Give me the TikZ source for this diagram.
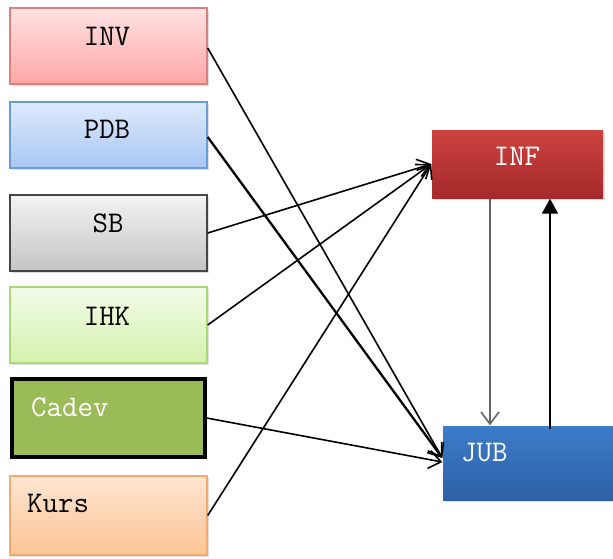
\documentclass[tikz,border=0pt]{standalone}
\usepackage{fontspec}
\usetikzlibrary{arrows.meta,shadows,calc}
\begin{document}
\begin{tikzpicture}[x=1pt,y=-1pt,
  box/.style={draw, line width=1.4pt, inner sep=0pt,
    drop shadow={shadow xshift=1.5pt, shadow yshift=-1.5pt, opacity=0.25}},
  leftbox/.style={box, minimum width=197pt, minimum height=76pt},
  lbl/.style={font=\ttfamily\fontsize{30}{32}\selectfont, inner sep=0pt, anchor=base},
  lblw/.style={lbl, anchor=base west},
  flow/.style={line width=1.6pt, -{Straight Barb[length=12pt,width=18pt,line width=1.6pt]}},
  upflow/.style={line width=1.8pt, -{Triangle[length=15pt,width=16pt]}}]
\useasboundingbox (0,0) rectangle (613,558);
\clip (0,0) rectangle (613,558);

% source boxes on the left
\node[leftbox, draw={rgb,255:red,217;green,128;blue,128},
  top color={rgb,255:red,255;green,226;blue,226}, bottom color={rgb,255:red,255;green,166;blue,166}]
  (inv) at (108.5,46) {};
\node[leftbox, minimum height=66pt, draw={rgb,255:red,107;green,155;blue,216},
  top color={rgb,255:red,222;green,234;blue,252}, bottom color={rgb,255:red,168;green,199;blue,244}]
  (pdb) at (108.5,135) {};
\node[leftbox, draw={rgb,255:red,70;green,70;blue,70},
  top color={rgb,255:red,243;green,243;blue,243}, bottom color={rgb,255:red,196;green,196;blue,196}]
  (sb) at (108.5,233) {};
\node[leftbox, draw={rgb,255:red,168;green,216;blue,122},
  top color={rgb,255:red,243;green,252;blue,233}, bottom color={rgb,255:red,212;green,241;blue,172}]
  (ihk) at (108.5,325) {};
\node[leftbox, line width=3.5pt, minimum width=193pt, minimum height=78pt, draw=black,
  fill={rgb,255:red,155;green,187;blue,89}]
  (cadev) at (108.5,418) {};
\node[leftbox, minimum height=79pt, draw={rgb,255:red,244;green,170;blue,110},
  top color={rgb,255:red,255;green,229;blue,210}, bottom color={rgb,255:red,252;green,196;blue,148}]
  (kurs) at (108.5,515.5) {};

% target boxes on the right
\node[box, draw=none, minimum width=171pt, minimum height=68pt,
  top color={rgb,255:red,204;green,66;blue,64}, bottom color={rgb,255:red,164;green,42;blue,42}]
  (inf) at (517.5,164) {};
\node[box, draw=none, minimum width=177pt, minimum height=74pt,
  top color={rgb,255:red,60;green,124;blue,202}, bottom color={rgb,255:red,46;green,96;blue,166}]
  (jub) at (531.5,463) {};

% labels
\node[lbl] (tinv) at (107,45) {INV};
\node[lbl] (tpdb) at (107,138) {PDB};
\node[lbl] (tsb) at (108,232) {SB};
\node[lbl] (tihk) at (107,325) {IHK};
\node[lblw, text=white] (tcadev) at (31,416) {Cadev};
\node[lblw] (tkurs) at (27,512) {Kurs};
\node[lbl, text=white] (tinf) at (517,165) {INF};
\node[lblw, text=white] (tjub) at (461,461) {JUB};

% connectors into INF
\draw[flow] (sb.east) -- (inf.west);
\draw[flow] (ihk.east) -- (inf.west);
\draw[flow] (kurs.east) -- (inf.west);
% connectors into JUB
\draw[flow] ([yshift=-2pt]inv.east) -- ([yshift=5pt]jub.west);
\draw[flow, line width=2.3pt] ([yshift=-2pt]pdb.east) -- ([yshift=5pt]jub.west);
\draw[flow] (cadev.east) -- ([yshift=1pt]jub.west);

% feedback between INF and JUB
\coordinate (dn) at ([xshift=-27.5pt]inf.south);
\coordinate (up) at ([xshift=32.5pt]inf.south);
\draw[flow, line width=2pt, draw={rgb,255:red,100;green,100;blue,100}] (dn) -- (dn |- jub.north);
\draw[upflow] ($(up |- jub.north)+(0,4)$) -- (up);
\end{tikzpicture}
\end{document}
